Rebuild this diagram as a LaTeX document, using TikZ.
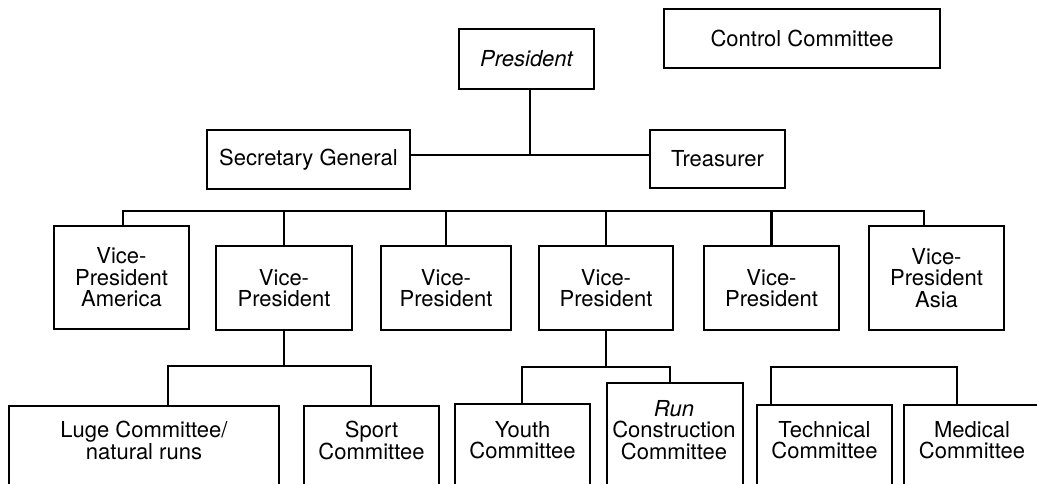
\documentclass[tikz,border=0pt]{standalone}
\usepackage{fontspec}
\setmainfont{TeX Gyre Heros}
\begin{document}
\begin{tikzpicture}[x=1pt,y=-1pt,
  orgbox/.style={draw, line width=1.3pt, inner sep=0pt, outer sep=0pt, align=center,
    font=\fontsize{22}{21.5}\selectfont},
  openbox/.style={draw, line width=1.3pt, inner sep=0pt, outer sep=0pt, anchor=north west, minimum height=110pt},
  lbl/.style={inner sep=0pt, anchor=north, align=center, font=\fontsize{22}{21.5}\selectfont},
  wire/.style={line width=2.4pt, line cap=rect}]
\useasboundingbox (0,0) rectangle (1037,484);
\clip (0,0) rectangle (1037,484);
% top rows
\node[orgbox, minimum width=135pt, minimum height=60pt] (pres) at (526.5,59) {\itshape President};
\node[orgbox, minimum width=276pt, minimum height=59pt] (ctrl) at (802,38.5) {Control Committee};
\node[orgbox, minimum width=203pt, minimum height=59pt] (sec) at (308.5,159.5) {Secretary General};
\node[orgbox, minimum width=135pt, minimum height=58pt] (tre) at (717.5,159) {Treasurer};
% vice presidents
\node[orgbox, minimum width=135pt, minimum height=103pt] (vpa) at (121.5,277.5) {Vice-\\President\\America};
\node[orgbox, minimum width=136pt, minimum height=84pt] (vp2) at (284,288) {Vice-\\President};
\node[orgbox, minimum width=130pt, minimum height=84pt] (vp3) at (446,288) {Vice-\\President};
\node[orgbox, minimum width=134pt, minimum height=84pt] (vp4) at (606,288) {Vice-\\President};
\node[orgbox, minimum width=135pt, minimum height=84pt] (vp5) at (771.5,288) {Vice-\\President};
\node[orgbox, minimum width=135pt, minimum height=104pt] (vpasia) at (936.5,278) {Vice-\\President\\Asia};
% committees (boxes run off the bottom edge)
\node[openbox, minimum width=270pt] (luge) at (9,406) {};
\node[openbox, minimum width=135pt] (sport) at (304,406) {};
\node[openbox, minimum width=135pt] (youth) at (455,404) {};
\node[openbox, minimum width=136pt] (run) at (607,383) {};
\node[openbox, minimum width=135pt] (tech) at (757,405) {};
\node[openbox, minimum width=160pt] (med) at (904,405) {};
\node[lbl] (luget) at (144,421) {Luge Committee/\\natural runs};
\node[lbl] (sportt) at (371.5,421) {Sport\\Committee};
\node[lbl] (youtht) at (522.5,421) {Youth\\Committee};
\node[lbl] (runt) at (674,400) {\textit{Run}\\Construction\\Committee};
\node[lbl] (techt) at (824.5,421) {Technical\\Committee};
\node[lbl] (medt) at (972,421) {Medical\\Committee};
% connectors
\coordinate (j1) at (530,155);
\draw[wire] (pres.south -| j1) -- (j1);
\draw[wire] (sec.east |- j1) -- (tre.west |- j1);
\coordinate (vbL) at (123,211);
\coordinate (vbR) at (924,211);
\draw[wire] (vpa.north -| vbL) -- (vbL) -- (vbR) -- (vpasia.north -| vbR);
\foreach \n in {vp2,vp3,vp4,vp5} \draw[wire] (\n.north) -- (\n.north |- vbL);
\coordinate (b2L) at (168,366);
\coordinate (b2R) at (371,366);
\draw[wire] (vp2.south) -- (vp2.south |- b2L);
\draw[wire] (luge.north -| b2L) -- (b2L) -- (b2R) -- (sport.north -| b2R);
\coordinate (b4L) at (522,367);
\coordinate (b4R) at (670,367);
\draw[wire] (vp4.south) -- (vp4.south |- b4L);
\draw[wire] (youth.north -| b4L) -- (b4L) -- (b4R) -- (run.north -| b4R);
\coordinate (b6L) at (771,367);
\coordinate (b6R) at (957,367);
\draw[wire] (tech.north -| b6L) -- (b6L) -- (b6R) -- (med.north -| b6R);
\end{tikzpicture}
\end{document}
